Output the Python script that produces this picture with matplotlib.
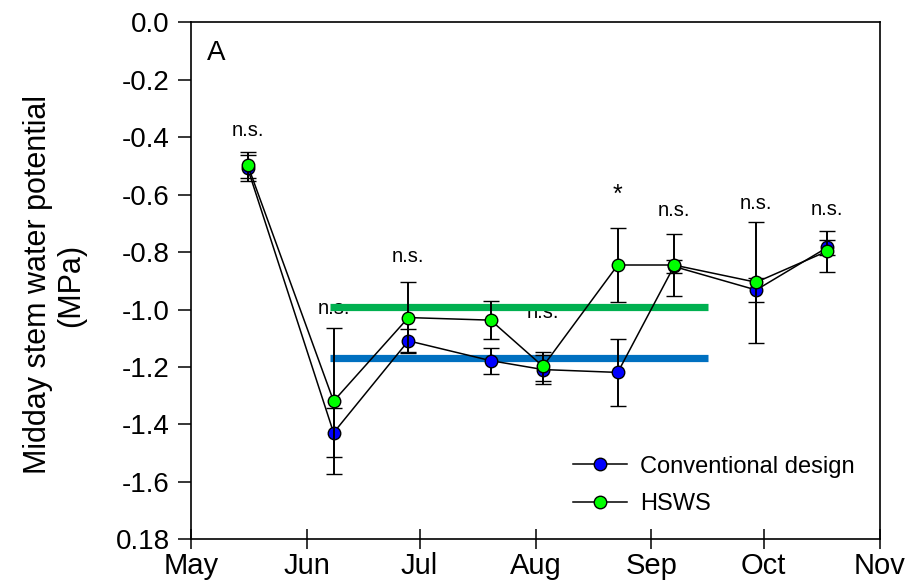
import numpy as np
import matplotlib
matplotlib.use("Agg")
import matplotlib.pyplot as plt
import matplotlib.dates as mdates
from matplotlib.lines import Line2D

plt.rcParams['font.family'] = ['Liberation Sans', 'DejaVu Sans']

# sampling dates
dates = np.array(['2019-05-16', '2019-06-08', '2019-06-28', '2019-07-20', '2019-08-03',
                  '2019-08-23', '2019-09-07', '2019-09-29', '2019-10-18'], dtype='datetime64[D]')

conv_mean = [-0.507, -1.429, -1.109, -1.178, -1.209, -1.219, -0.850, -0.932, -0.784]
conv_err = [0.045, 0.085, 0.040, 0.045, 0.050, 0.118, 0.022, 0.043, 0.025]
hsws_mean = [-0.496, -1.319, -1.028, -1.037, -1.198, -0.845, -0.845, -0.905, -0.797]
hsws_err = [0.046, 0.255, 0.125, 0.065, 0.050, 0.130, 0.108, 0.210, 0.072]

# significance labels and their baselines
sig_labels = ['n.s.', 'n.s.', 'n.s.', '', 'n.s.', '*', 'n.s.', 'n.s.', 'n.s.']
sig_y = [-0.395, -1.016, -0.836, None, -1.030, -0.625, -0.675, -0.650, -0.670]

# seasonal reference lines
ref_start = np.datetime64('2019-06-07')
ref_end = np.datetime64('2019-09-16')
ref_hsws = -0.99
ref_conv = -1.17

yticks = np.round(np.arange(-1.8, 0.01, 0.2), 1)
ytick_labels = ['0.18'] + ['%.1f' % v for v in yticks[1:-1]] + ['0.0']
month_ticks = np.array(['2019-05-01', '2019-06-01', '2019-07-01', '2019-08-01',
                        '2019-09-01', '2019-10-01', '2019-11-01'], dtype='datetime64[D]')

fig = plt.figure(figsize=(9.14, 5.83), dpi=100)
ax = fig.add_axes([0.2095, 0.0750, 0.7528, 0.8867])

ax.plot([ref_start, ref_end], [ref_hsws, ref_hsws], color='#00b050', lw=5.2,
        solid_capstyle='butt', zorder=2)
ax.plot([ref_start, ref_end], [ref_conv, ref_conv], color='#0070c0', lw=5.2,
        solid_capstyle='butt', zorder=2)

ax.errorbar(dates, conv_mean, yerr=conv_err, color='black', lw=1.1, elinewidth=1.4,
            capsize=6, capthick=1.4, marker='o', ms=9, mfc='#0000ff', mec='black',
            mew=1.0, zorder=3)
ax.errorbar(dates, hsws_mean, yerr=hsws_err, color='black', lw=1.1, elinewidth=1.4,
            capsize=6, capthick=1.4, marker='o', ms=9, mfc='#00ff00', mec='black',
            mew=1.0, zorder=4)

for d, lab, y in zip(dates, sig_labels, sig_y):
    if lab:
        fs = 18 if lab == '*' else 14.5
        ax.text(d, y, lab, ha='center', va='baseline', fontsize=fs, zorder=1)

ax.text(0.022, 0.94, 'A', transform=ax.transAxes, fontsize=20, ha='left', va='center')

ax.set_ylim(-1.8, 0.0)
ax.set_xlim(month_ticks[0], month_ticks[-1])
ax.set_yticks(yticks)
ax.set_yticklabels(ytick_labels)
ax.set_xticks(month_ticks)
ax.xaxis.set_major_formatter(mdates.DateFormatter('%b'))

ax.tick_params(axis='y', direction='out', length=9.5, width=1.1, labelsize=20, pad=6)
ax.tick_params(axis='x', direction='inout', length=15, width=1.1, labelsize=21, pad=2)
for s in ax.spines.values():
    s.set_linewidth(1.2)

ax.set_ylabel('Midday stem water potential\n(MPa)', fontsize=22, linespacing=1.15)
ax.yaxis.set_label_coords(-0.153, 0.492)

handles = [
    Line2D([], [], color='black', lw=1.1, marker='o', ms=9, mfc='#0000ff', mec='black'),
    Line2D([], [], color='black', lw=1.1, marker='o', ms=9, mfc='#00ff00', mec='black'),
]
ax.legend(handles, ['Conventional design', 'HSWS'], loc='upper left',
          bbox_to_anchor=(0.5545, 0.162), frameon=False, fontsize=17, borderpad=0,
          borderaxespad=0, handlelength=2.3, handletextpad=0.55, labelspacing=0.66)

fig.savefig('out.png', dpi=100)
